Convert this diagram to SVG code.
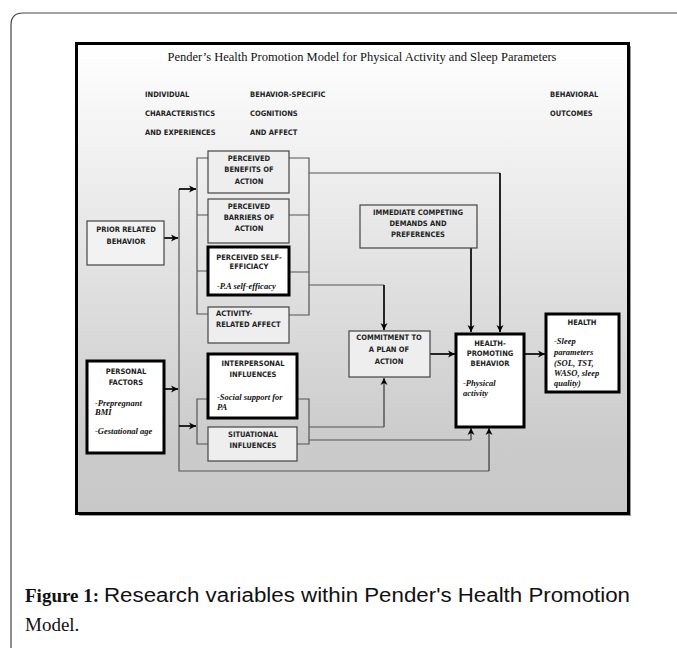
<svg xmlns="http://www.w3.org/2000/svg" width="677" height="648" viewBox="0 0 677 648">
<defs>
<linearGradient id="bg" x1="0" y1="0" x2="0" y2="1">
<stop offset="0" stop-color="#ffffff"/>
<stop offset="0.85" stop-color="#cbcbcb"/>
<stop offset="1" stop-color="#c8c8c8"/>
</linearGradient>
<marker id="ah" markerUnits="userSpaceOnUse" markerWidth="8" markerHeight="8" refX="7" refY="4" orient="auto">
<path d="M0,0.5 L7,4 L0,7.5 L2,4 Z" fill="#000"/>
</marker>
</defs>
<style>
.lbl{font-family:"Liberation Sans Narrow","DejaVu Sans Condensed","Liberation Sans",sans-serif;font-weight:bold;font-size:7.5px;fill:#222}
.c{text-anchor:middle}
.it{font-family:"Liberation Serif",serif;font-weight:bold;font-style:italic;font-size:8.5px;fill:#111}
.box{fill:#eeeeee;stroke:#444;stroke-width:1.2}
.thick{fill:#ffffff;stroke:#000;stroke-width:3}
.thin{fill:none;stroke:#555;stroke-width:1.2}
.arr{fill:none;stroke:#111;stroke-width:1.8;marker-end:url(#ah)}
.garr{fill:none;stroke:#555;stroke-width:1.5;marker-end:url(#ah)}
</style>
<rect width="677" height="648" fill="#ffffff"/>
<path d="M11,648 V25 Q11,13 23,13 H677" fill="none" stroke="#444" stroke-width="1.2"/>
<rect x="79" y="46" width="552" height="470" fill="#999"/>
<rect x="76.5" y="43.5" width="552" height="470" fill="url(#bg)" stroke="#000" stroke-width="3"/>
<text x="362" y="61" font-family="Liberation Serif,serif" font-size="12.5" text-anchor="middle" fill="#111">Pender’s Health Promotion Model for Physical Activity and Sleep Parameters</text>
<g id="headers">
<text class="lbl" x="145" y="97">INDIVIDUAL</text>
<text class="lbl" x="145" y="116">CHARACTERISTICS</text>
<text class="lbl" x="145" y="135">AND EXPERIENCES</text>
<text class="lbl" x="250" y="97">BEHAVIOR-SPECIFIC</text>
<text class="lbl" x="250" y="116">COGNITIONS</text>
<text class="lbl" x="250" y="135">AND AFFECT</text>
<text class="lbl" x="550" y="97">BEHAVIORAL</text>
<text class="lbl" x="550" y="116">OUTCOMES</text>
</g>
<g id="connectors">
<path class="arr" d="M164,238 H178"/>
<path class="arr" d="M164,389 H178"/>
<path class="thin" d="M179,189 V471 H489"/>
<path class="garr" d="M489,471 V428"/>
<path class="arr" d="M179,189 H196"/>
<path class="thin" d="M208,158 H197 V314 H208 M197,215 H208 M197,271 H208"/>
<path class="thin" d="M289,158 H309 V315 H289 M289,215 H309 M289,272 H309"/>
<path class="thin" d="M309,173 H500"/>
<path class="arr" d="M500,173 V332"/>
<path class="thin" d="M309,285 H384"/>
<path class="arr" d="M384,285 V330"/>
<path class="arr" d="M471,248 V332"/>
<path class="thin" d="M208,399 H197 V444 H208"/>
<path class="arr" d="M179,426 H196"/>
<path class="thin" d="M297,399 H309 V444 H297"/>
<path class="thin" d="M309,427 H384"/>
<path class="garr" d="M384,427 V378"/>
<path class="thin" d="M309,440 H471"/>
<path class="garr" d="M471,440 V428"/>
<path class="arr" d="M430,354 H455"/>
<path class="arr" d="M524,354 H545"/>
</g>
<g id="benefits">
<rect class="box" x="208" y="151" width="81" height="42"/>
<text class="lbl c" x="249" y="161">PERCEIVED</text>
<text class="lbl c" x="249" y="172">BENEFITS OF</text>
<text class="lbl c" x="249" y="184">ACTION</text>
</g>
<g id="barriers">
<rect class="box" x="208" y="199" width="81" height="44"/>
<text class="lbl c" x="249" y="209">PERCEIVED</text>
<text class="lbl c" x="249" y="220">BARRIERS OF</text>
<text class="lbl c" x="249" y="231">ACTION</text>
</g>
<g id="selfefficacy">
<rect class="thick" x="208" y="247" width="81" height="48"/>
<text class="lbl c" x="249" y="260">PERCEIVED SELF-</text>
<text class="lbl c" x="249" y="269">EFFICIACY</text>
<text class="it" x="217" y="289">-P.A self-efficacy</text>
</g>
<g id="activity">
<rect class="box" x="208" y="307" width="81" height="36"/>
<text class="lbl" x="216" y="316">ACTIVITY-</text>
<text class="lbl" x="216" y="327">RELATED AFFECT</text>
</g>
<g id="interpersonal">
<rect class="thick" x="208" y="354" width="89" height="64"/>
<text class="lbl c" x="253" y="366">INTERPERSONAL</text>
<text class="lbl c" x="253" y="377">INFLUENCES</text>
<text class="it" x="217" y="400">-Social support for</text>
<text class="it" x="217" y="410">PA</text>
</g>
<g id="situational">
<rect class="box" x="208" y="427" width="89" height="34"/>
<text class="lbl c" x="253" y="437">SITUATIONAL</text>
<text class="lbl c" x="253" y="448">INFLUENCES</text>
</g>
<g id="prior">
<rect class="box" x="87" y="221" width="77" height="44" style="fill:#f2f2f2"/>
<text class="lbl c" x="126" y="232">PRIOR RELATED</text>
<text class="lbl c" x="126" y="244">BEHAVIOR</text>
</g>
<g id="personal">
<rect class="thick" x="87" y="361" width="77" height="92"/>
<text class="lbl c" x="126" y="374">PERSONAL</text>
<text class="lbl c" x="126" y="385">FACTORS</text>
<text class="it" x="95" y="406">-Prepregnant</text>
<text class="it" x="95" y="415">BMI</text>
<text class="it" x="95" y="434">-Gestational age</text>
</g>
<g id="immediate">
<rect class="box" x="360" y="205" width="117" height="43" style="fill:none"/>
<text class="lbl c" x="418" y="215">IMMEDIATE COMPETING</text>
<text class="lbl c" x="418" y="226">DEMANDS AND</text>
<text class="lbl c" x="418" y="237">PREFERENCES</text>
</g>
<g id="commitment">
<rect class="box" x="349" y="331" width="81" height="46"/>
<text class="lbl c" x="389" y="340">COMMITMENT TO</text>
<text class="lbl c" x="389" y="352">A PLAN OF</text>
<text class="lbl c" x="389" y="364">ACTION</text>
</g>
<g id="hpb">
<rect class="thick" x="456" y="334" width="68" height="93"/>
<text class="lbl c" x="490" y="346">HEALTH-</text>
<text class="lbl c" x="490" y="356">PROMOTING</text>
<text class="lbl c" x="490" y="366">BEHAVIOR</text>
<text class="it" x="463" y="386">-Physical</text>
<text class="it" x="463" y="396">activity</text>
</g>
<g id="health">
<rect class="thick" x="546" y="314" width="73" height="78"/>
<text class="lbl c" x="582" y="325">HEALTH</text>
<text class="it" x="554" y="344">-Sleep</text>
<text class="it" x="554" y="355">parameters</text>
<text class="it" x="554" y="366">(SOL, TST,</text>
<text class="it" x="554" y="376">WASO, sleep</text>
<text class="it" x="554" y="386">quality)</text>
</g>
<g id="caption">
<text x="25" y="602" font-family="Liberation Serif,serif" font-weight="bold" font-size="19" fill="#111">Figure  1:</text>
<text x="104" y="602" font-family="Liberation Sans,sans-serif" font-size="20" fill="#111" textLength="526" lengthAdjust="spacingAndGlyphs">Research variables within Pender's Health Promotion</text>
<text x="25" y="631" font-family="Liberation Serif,serif" font-size="19" fill="#111">Model.</text>
</g>
</svg>
